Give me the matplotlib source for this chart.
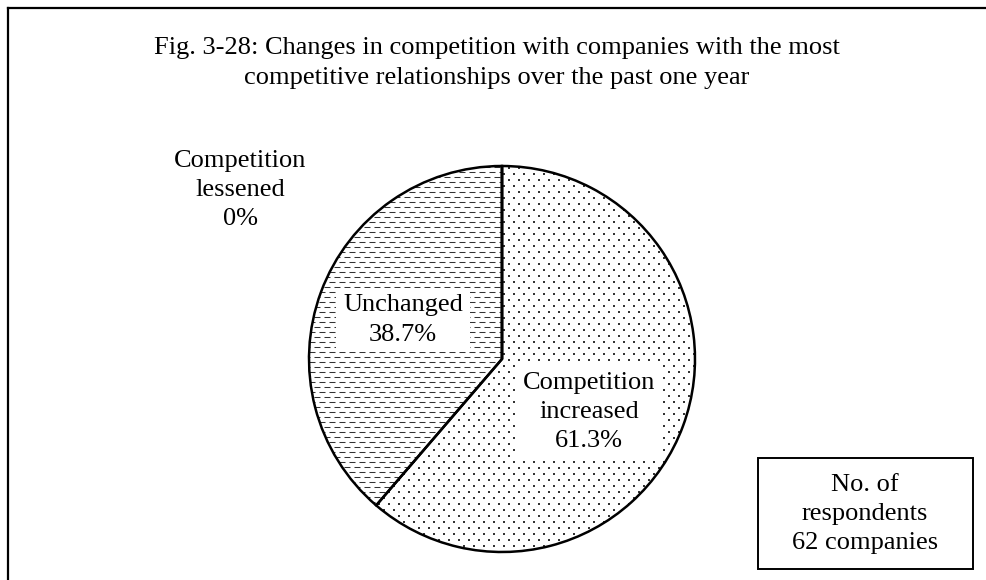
import matplotlib
matplotlib.use("Agg")
import matplotlib.pyplot as plt
import numpy as np
from matplotlib.lines import Line2D
from matplotlib.patches import Rectangle

plt.rcParams["font.family"] = ["Liberation Serif", "DejaVu Serif"]
plt.rcParams["lines.scale_dashes"] = False

# datos del grafico
titulo = ("Fig. 3-28: Changes in competition with companies with the most\n"
          "competitive relationships over the past one year")
categorias = ["Competition\nincreased", "Unchanged", "Competition\nlessened"]
valores = [61.3, 38.7, 0.0]
n_respuestas = 62

W, H = 986, 580
fs = 19
fig = plt.figure(figsize=(W / 100, H / 100), dpi=100)

# marco exterior (solo se ven los bordes superior e izquierdo)
fig.add_artist(Line2D([8 / W, 1], [1 - 8 / H, 1 - 8 / H], color="black", lw=1.6))
fig.add_artist(Line2D([8 / W, 8 / W], [0, 1 - 8 / H], color="black", lw=1.6))

fig.text(497 / W, 1 - 63 / H, titulo, ha="center", va="center", fontsize=fs,
         linespacing=1.42)

# ejes del pastel: centro (502, 359) px, radio 193 px
cx, cy, r = 502, 359, 193
ax = fig.add_axes([(cx - r) / W, (H - cy - r) / H, 2 * r / W, 2 * r / H])

wedges, _ = ax.pie(valores, startangle=90, counterclock=False, radius=1,
                   wedgeprops=dict(facecolor="none", edgecolor="black", linewidth=1.8))
for w in wedges:
    w.set_zorder(3)
ax.set_xlim(-1, 1)
ax.set_ylim(-1, 1)
ax.axis("off")

px = 1 / r  # un pixel en unidades de datos

# trama de puntos para "increased"
filas = np.arange(-1, 1, 6 * px)
xs, ys = [], []
for i, y in enumerate(filas):
    x = np.arange(-1 + (i % 2) * 5 * px, 1, 10 * px)
    xs.append(x)
    ys.append(np.full_like(x, y))
pts = ax.scatter(np.concatenate(xs), np.concatenate(ys), s=1.3, marker="s",
                 color="#333333", linewidths=0, zorder=2)
pts.set_clip_path(wedges[0])

# trama de rayas horizontales para "unchanged"
filas = np.arange(-1, 1, 5 * px) + 0.5 * px
for i, y in enumerate(filas):
    off = (i % 2) * 5
    lc = ax.hlines(y, -1, 1, colors="#333333", linewidth=0.75,
                   linestyles=[(off * 0.72, (6 * 0.72, 4 * 0.72))], zorder=2)
    lc.set_clip_path(wedges[1])

def a_datos(x, y):
    return (x - cx) * px, (cy - y) * px

caja = dict(facecolor="white", edgecolor="none", pad=5)
ax.text(*a_datos(589, 412), f"{categorias[0]}\n{valores[0]:.1f}%", ha="center",
        va="center", fontsize=fs, linespacing=1.42, bbox=caja, zorder=4)
ax.text(*a_datos(403, 320), f"{categorias[1]}\n{valores[1]:.1f}%", ha="center",
        va="center", fontsize=fs, linespacing=1.42, bbox=caja, zorder=4)
fig.text(240 / W, 1 - 190 / H, f"{categorias[2]}\n{valores[2]:.0f}%", ha="center",
         va="center", fontsize=fs, linespacing=1.42)

# recuadro con el numero de respuestas
fig.add_artist(Rectangle((758 / W, 1 - 569 / H), 215 / W, 111 / H, fill=False,
                         edgecolor="black", linewidth=1.4, transform=fig.transFigure))
fig.text(865 / W, 1 - 514 / H, f"No. of\nrespondents\n{n_respuestas} companies",
         ha="center", va="center", fontsize=fs, linespacing=1.4)

fig.savefig("out.png", dpi=100)
